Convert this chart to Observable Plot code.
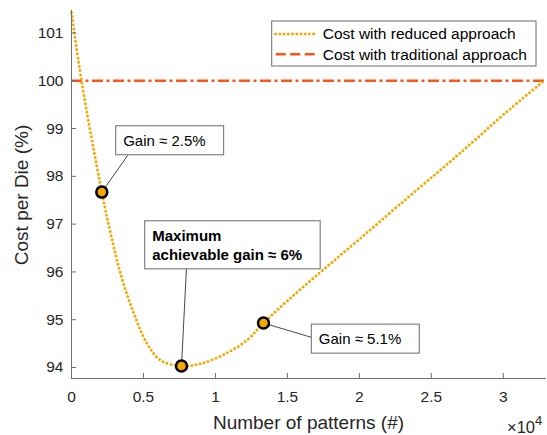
<!DOCTYPE html>
<html><head><meta charset="utf-8">
<script src="https://cdn.jsdelivr.net/npm/d3@7"></script>
<script src="https://cdn.jsdelivr.net/npm/@observablehq/plot@0.6"></script>
<style>
body{margin:0;background:#fff;}
#chart{position:relative;width:547px;height:435px;}
</style></head><body><div id="chart"></div>
<script>
// ---- data ----
const patterns =    [0, 694, 2105, 2730, 3420, 4350, 5270, 6200, 7642, 8980, 10830, 12220, 13339, 15460, 17780, 20090, 22640, 25420, 27730, 30040, 32820];
const costReduced = [101.43, 100.0, 97.67, 96.79, 95.95, 95.12, 94.49, 94.15, 94.03, 94.08, 94.31, 94.58, 94.93, 95.52, 96.12, 96.71, 97.37, 98.08, 98.68, 99.30, 100.0];
const traditionalCost = 100;

const markerPatterns = [2105, 7642, 13339];
const markerCosts = [97.67, 94.03, 94.93];

const annotationTexts = ["Gain \u2248 2.5%", "Maximum\nachievable gain \u2248 6%", "Gain \u2248 5.1%"];
const annotationBold = [false, true, false];
const annotationX = [3592, 5607, 17181];
const annotationY = [98.74, 96.58, 94.59];
const leaderX = [3911, 7989, 16674];
const leaderY = [98.44, 96.09, 94.63];

const xTicks = [0, 5000, 10000, 15000, 20000, 25000, 30000];
const yTicks = [94, 95, 96, 97, 98, 99, 100, 101];
const legendLabels = ["Cost with reduced approach", "Cost with traditional approach"];
const xLabel = "Number of patterns (#)";
const yLabel = "Cost per Die (%)";

// ---- styles ----
const reducedColor = "#F5A800";
const tradColor = "#FF5318";
const axisColor = "#6e6e6e";
const textColor = "#262626";
const font = "'Liberation Sans', Arial, Helvetica, sans-serif";

const curve = patterns.map((p, i) => ({p, c: costReduced[i]}));
const idx = markerPatterns.map((_, i) => i);
const ann = annotationTexts.map((t, i) => ({t, x: annotationX[i], y: annotationY[i], bold: annotationBold[i]}));

const plot = Plot.plot({
  width: 547, height: 435,
  marginLeft: 71, marginRight: 1, marginTop: 10, marginBottom: 57,
  x: {domain: [0, 33000]},
  y: {domain: [93.77, 101.47]},
  style: {fontFamily: font, fontSize: "15.5px", color: textColor, background: "white"},
  marks: [
    Plot.ruleY([traditionalCost], {stroke: tradColor, strokeWidth: 2.5, strokeDasharray: "11 3.5 3 3.5"}),
    Plot.line(curve, {x: "p", y: "c", stroke: reducedColor, strokeWidth: 3, strokeDasharray: "0 4.2", strokeLinecap: "round", curve: "catmull-rom"}),
    Plot.ruleX([0], {stroke: axisColor, strokeWidth: 1}),
    Plot.ruleY([93.77], {stroke: axisColor, strokeWidth: 1}),
    Plot.axisY(yTicks, {anchor: "left", tickSize: 0, tickPadding: 8, fontSize: 15.5, color: textColor, label: null}),
    Plot.axisY(yTicks, {anchor: "left", tickSize: -5, tickFormat: () => "", stroke: axisColor, label: null}),
    Plot.axisX(xTicks, {anchor: "bottom", tickSize: 0, tickPadding: 12, fontSize: 15.5, color: textColor, tickFormat: d => d / 1e4, label: null}),
    Plot.axisX(xTicks, {anchor: "bottom", tickSize: -5, tickFormat: () => "", stroke: axisColor, label: null}),
    Plot.link(idx, {x1: i => markerPatterns[i], y1: i => markerCosts[i], x2: i => leaderX[i], y2: i => leaderY[i], stroke: "#333", strokeWidth: 0.9}),
    Plot.dot(idx, {x: i => markerPatterns[i], y: i => markerCosts[i], r: 5.5, fill: reducedColor, stroke: "#000", strokeWidth: 2.5}),
    Plot.text(ann.filter(d => !d.bold), {x: "x", y: "y", text: "t", textAnchor: "start", lineAnchor: "middle", fontSize: 15, fill: "#000"}),
    Plot.text(ann.filter(d => d.bold), {x: "x", y: "y", text: "t", textAnchor: "start", lineAnchor: "middle", lineHeight: 1.27, fontSize: 15, fontWeight: "bold", fill: "#000"})
  ]
});

document.getElementById("chart").append(plot);
const svg = d3.select(plot);
const sr = plot.getBoundingClientRect();

// boxes behind annotation texts (the only plain text marks)
const textGroups = Array.from(plot.querySelectorAll('g[aria-label="text"]'));
textGroups.forEach(g => {
  const boxes = [];
  g.querySelectorAll("text").forEach(t => {
    const r = t.getBoundingClientRect();
    boxes.push({x: r.left - sr.left, y: r.top - sr.top, w: r.width, h: r.height});
  });
  const bg = document.createElementNS("http://www.w3.org/2000/svg", "g");
  g.parentNode.insertBefore(bg, g);
  boxes.forEach(b => {
    d3.select(bg).append("rect")
      .attr("x", b.x - 7.5).attr("y", b.y - 6)
      .attr("width", b.w + 25.5).attr("height", b.h + 12)
      .attr("fill", "white").attr("stroke", "#6b6b6b").attr("stroke-width", 1);
  });
});

// legend
const lg = svg.append("g").attr("transform", "translate(271.7,21)");
lg.append("rect").attr("width", 264.3).attr("height", 45).attr("fill", "white").attr("stroke", "#6b6b6b").attr("stroke-width", 1);
const legendStyles = [
  {stroke: reducedColor, dash: "0 4.2", cap: "round", w: 3},
  {stroke: tradColor, dash: "10 4.5", cap: "butt", w: 2.5}
];
const legendRowY = [13, 33.3];
legendLabels.forEach((lab, i) => {
  const st = legendStyles[i];
  lg.append("line").attr("x1", 4).attr("x2", 45.5).attr("y1", legendRowY[i]).attr("y2", legendRowY[i])
    .attr("stroke", st.stroke).attr("stroke-width", st.w).attr("stroke-dasharray", st.dash).attr("stroke-linecap", st.cap);
  lg.append("text").attr("x", 51).attr("y", legendRowY[i]).attr("dy", "0.35em").attr("text-anchor", "start")
    .attr("font-size", 15.5).attr("fill", "#000").text(lab);
});

// axis titles
svg.append("text").attr("x", 308.5).attr("y", 429).attr("text-anchor", "middle")
  .attr("font-size", 19).attr("fill", textColor).text(xLabel);
svg.append("text").attr("transform", "translate(21,195) rotate(-90)").attr("text-anchor", "middle").attr("dy", "0.35em")
  .attr("font-size", 19).attr("fill", textColor).text(yLabel);
const mult = svg.append("text").attr("x", 507).attr("y", 433).attr("text-anchor", "start").attr("font-size", 16.5).attr("fill", textColor);
mult.append("tspan").text("\u00d710");
mult.append("tspan").attr("font-size", 13).attr("dy", -8).text("4");
</script></body></html>
